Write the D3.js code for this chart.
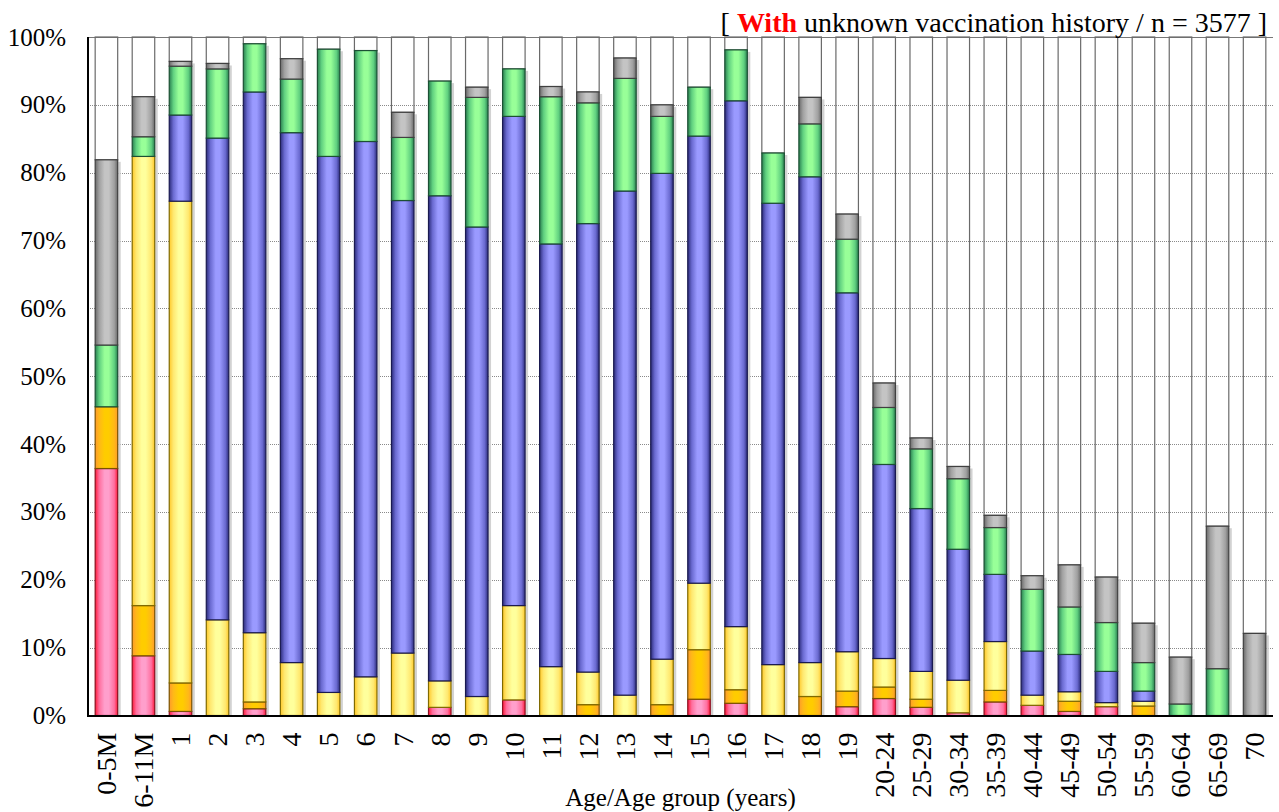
<!DOCTYPE html>
<html><head><meta charset="utf-8">
<script src="https://cdn.jsdelivr.net/npm/d3@7"></script>
<style>body{margin:0;background:#fff} svg text{font-family:"Liberation Serif","Times New Roman",serif;}</style>
</head><body>
<svg id="chart" width="1279" height="812"></svg>
<script>
const categories = ["0-5M","6-11M","1","2","3","4","5","6","7","8","9","10","11","12","13","14","15","16","17","18","19","20-24","25-29","30-34","35-39","40-44","45-49","50-54","55-59","60-64","65-69","70"];
const redVals    = [36.4, 8.8, 0.6, 0, 1.0, 0, 0, 0, 0, 1.2, 0, 2.3, 0, 0, 0, 0, 2.4, 1.8, 0, 0, 1.3, 2.5, 1.2, 0.4, 2.0, 1.5, 0.6, 1.3, 0, 0, 0, 0];
const orangeVals = [9.1, 7.4, 4.2, 0, 1.0, 0, 0, 0, 0, 0, 0, 0, 0, 1.6, 0, 1.6, 7.3, 2.0, 0, 2.8, 2.3, 1.7, 1.2, 0, 1.7, 0, 1.5, 0, 1.4, 0, 0, 0];
const yellowVals = [0, 66.2, 71.0, 14.1, 10.2, 7.8, 3.4, 5.7, 9.2, 3.9, 2.8, 13.9, 7.2, 4.8, 3.0, 6.7, 9.8, 9.3, 7.5, 5.0, 5.8, 4.2, 4.1, 4.8, 7.2, 1.5, 1.4, 0.6, 0.7, 0, 0, 0];
const blueVals   = [0, 0, 12.7, 71.0, 79.7, 78.1, 79.0, 78.9, 66.7, 71.5, 69.2, 72.1, 62.3, 66.1, 74.3, 71.6, 65.9, 77.5, 68.0, 71.6, 52.9, 28.6, 24.0, 19.3, 9.9, 6.5, 5.5, 4.6, 1.5, 0, 0, 0];
const greenVals  = [9.1, 2.9, 7.2, 10.2, 7.1, 7.9, 15.8, 13.4, 9.3, 16.9, 19.1, 7.0, 21.7, 17.8, 16.6, 8.4, 7.2, 7.5, 7.4, 7.8, 7.9, 8.4, 8.8, 10.4, 6.9, 9.1, 7.0, 7.2, 4.2, 1.7, 6.9, 0];
const grayVals   = [27.3, 5.9, 0.7, 0.8, 0, 3.0, 0, 0, 3.7, 0, 1.5, 0, 1.5, 1.6, 3.0, 1.7, 0, 0, 0, 3.9, 3.7, 3.6, 1.6, 1.8, 1.8, 2.0, 6.2, 6.7, 5.8, 6.9, 21.0, 12.1];
const yTicks = [0,10,20,30,40,50,60,70,80,90,100];
const titleParts = ["[ ", "With", " unknown vaccination history / n = 3577 ]"];
const xTitle = "Age/Age group (years)";

const keys = ["red","orange","yellow","blue","green","gray"];
const seriesArrays = {red:redVals, orange:orangeVals, yellow:yellowVals, blue:blueVals, green:greenVals, gray:grayVals};
const style = {
  red:    {edge:"#ff1a3a", mid:"#ff6f9f", light:"#ff9fcc", stroke:"#8a1020"},
  orange: {edge:"#ff9a2a", mid:"#ffb818", light:"#ffcc00", stroke:"#7a5200"},
  yellow: {edge:"#ffc82a", mid:"#ffe870", light:"#ffff9c", stroke:"#806a00"},
  blue:   {edge:"#2c2c7a", mid:"#6a6ad0", light:"#9a9aff", stroke:"#1a1a50"},
  green:  {edge:"#2a8050", mid:"#60d080", light:"#98ff98", stroke:"#1c5034"},
  gray:   {edge:"#6a6a6a", mid:"#a0a0a0", light:"#c4c4c4", stroke:"#404040"}
};
const FONT = '"Liberation Serif","Times New Roman",serif';

const data = categories.map((c,i)=>{
  const row = {cat:c};
  keys.forEach(k=>row[k]=seriesArrays[k][i]);
  return row;
});

const svg = d3.select("#chart");
const X0 = 88, X1 = 1273, Y0 = 715.5, Y1 = 37;
const x = d3.scaleBand().domain(categories).range([X0, X1]).paddingInner(0.365).paddingOuter(0.18);
const y = d3.scaleLinear().domain([0,100]).range([Y0, Y1]);

const defs = svg.append("defs");
keys.forEach(k=>{
  const s = style[k];
  const g = defs.append("linearGradient").attr("id","g-"+k).attr("x1","0").attr("x2","1").attr("y1","0").attr("y2","0");
  [[0,s.edge],[0.18,s.mid],[0.42,s.light],[0.6,s.light],[0.85,s.mid],[1,s.edge]].forEach(([o,c])=>{
    g.append("stop").attr("offset",o).attr("stop-color",c);
  });
});

svg.append("g").selectAll("line").data(yTicks.filter(t=>t>0 && t<100)).join("line")
  .attr("x1",X0).attr("x2",X1).attr("y1",d=>Math.round(y(d))+0.5).attr("y2",d=>Math.round(y(d))+0.5)
  .attr("stroke","#8a8a8a").attr("stroke-width",1).attr("stroke-dasharray","1,1");
svg.append("line").attr("x1",X0).attr("x2",X1).attr("y1",y(100)+0.5).attr("y2",y(100)+0.5)
  .attr("stroke","#777").attr("stroke-width",1.2);

const stack = d3.stack().keys(keys)(data);
const totals = data.map(d=>keys.reduce((a,k)=>a+d[k],0));

svg.append("g").selectAll("rect").data(data).join("rect")
  .attr("x",d=>x(d.cat)+0.5).attr("width",x.bandwidth()-1)
  .attr("y",y(100)).attr("height",(d,i)=>y(totals[i])-y(100))
  .attr("fill","none").attr("stroke","#6a6a6a").attr("stroke-width",1.2);

svg.append("g").selectAll("rect").data(data).join("rect")
  .attr("x",d=>x(d.cat)+x.bandwidth()).attr("width",2.5)
  .attr("y",(d,i)=>y(totals[i])+2).attr("height",(d,i)=>Y0-y(totals[i])-2)
  .attr("fill","#d2d2d2");

const layers = svg.append("g").selectAll("g").data(stack).join("g")
  .attr("fill",s=>"url(#g-"+s.key+")").attr("stroke",s=>style[s.key].stroke);
layers.selectAll("rect").data(s=>s.filter(p=>p[1]-p[0]>0)).join("rect")
  .attr("x",p=>x(p.data.cat)+0.5).attr("width",x.bandwidth()-1)
  .attr("y",p=>y(p[1])).attr("height",p=>y(p[0])-y(p[1]))
  .attr("stroke-width",1.2);

svg.append("line").attr("x1",X0).attr("x2",X0).attr("y1",Y1).attr("y2",Y0+1).attr("stroke","#000").attr("stroke-width",2);
svg.append("line").attr("x1",X0-1).attr("x2",X1).attr("y1",Y0+0.5).attr("y2",Y0+0.5).attr("stroke","#000").attr("stroke-width",2);

const yAxis = d3.axisLeft(y).tickValues(yTicks).tickFormat(d=>d+"%").tickSize(0).tickPadding(22);
const ya = svg.append("g").attr("transform",`translate(${X0},0)`).call(yAxis);
ya.attr("font-family",null).attr("font-size",null);
ya.select(".domain").remove();
ya.selectAll("text").style("font-family",FONT).style("font-size","25px").attr("fill","#000");

const xAxis = d3.axisBottom(x).tickSize(0).tickPadding(0);
const xa = svg.append("g").attr("transform",`translate(0,${Y0})`).call(xAxis);
xa.attr("font-family",null).attr("font-size",null);
xa.select(".domain").remove();
xa.selectAll("text").style("font-family",FONT).style("font-size","28px").attr("fill","#000")
  .attr("text-anchor","end").attr("transform","rotate(-90)")
  .attr("x",-17).attr("y",0).attr("dy","0.35em");

svg.append("text").attr("x",(X0+X1)/2).attr("y",806).attr("text-anchor","middle")
  .style("font-family",FONT).style("font-size","25px").text(xTitle);

const t = svg.append("text").attr("x",1267).attr("y",32).attr("text-anchor","end")
  .style("font-family",FONT).style("font-size","28px");
t.append("tspan").text(titleParts[0]);
t.append("tspan").attr("fill","#ff0000").attr("font-weight","bold").text(titleParts[1]);
t.append("tspan").text(titleParts[2]);
</script>
</body></html>
